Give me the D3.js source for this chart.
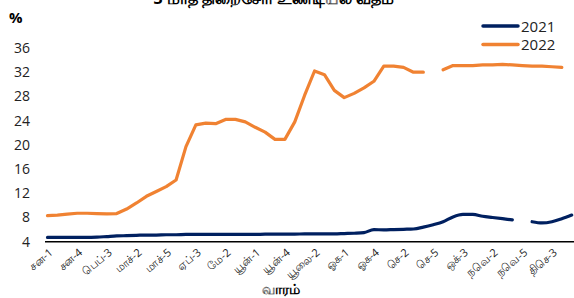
<!DOCTYPE html>
<html>
<head>
  <meta charset="utf-8" />
  <script src="https://cdn.jsdelivr.net/npm/d3@7"></script>
  <style>
    body { margin: 0; background: #fff; }
    text { font-family: "Open Sans", "Noto Sans", sans-serif; }
  </style>
</head>
<body>
<div id="chart"></div>
<script type="text/javascript">
// weekly rate, 54 weeks; null = no auction that week
var weeks = d3.range(54);

var rate2021 = [4.7, 4.7, 4.7, 4.7, 4.7, 4.75, 4.85, 4.95, 5.0, 5.05,
  5.1, 5.1, 5.15, 5.15, 5.2, 5.2, 5.2, 5.2, 5.2, 5.2,
  5.2, 5.2, 5.25, 5.25, 5.25, 5.25, 5.3, 5.3, 5.3, 5.3,
  5.35, 5.4, 5.5, 6.0, 5.95, 6.0, 6.05, 6.1, 6.4, 6.8,
  7.3, 8.1, 8.5, 8.5, 8.2, 8.0, 7.8, 7.6, null, 7.3,
  7.1, 7.3, 7.8, 8.4];

var rate2022 = [8.3, 8.4, 8.55, 8.7, 8.7, 8.65, 8.6, 8.65, 9.4, 10.4,
  11.5, 12.3, 13.1, 14.2, 19.7, 23.3, 23.6, 23.5, 24.2, 24.2,
  23.8, 22.9, 22.1, 20.9, 20.9, 23.8, 28.2, 32.2, 31.6, 29.0,
  27.8, 28.5, 29.4, 30.5, 33.0, 33.0, 32.8, 32.0, 32.0, null,
  32.4, 33.1, 33.1, 33.1, 33.2, 33.2, 33.3, 33.2, 33.1, 33.0,
  33.0, 32.9, 32.8, null];

var tickLabels = ["சன-1", "சன-4", "பெப்-3", "மாச்-2", "மாச்-5", "ஏப்-3",
  "மே-2", "யூன்-1", "யூன்-4", "யூலை-2", "ஓக-1", "ஓக-4", "செ-2", "செ-5",
  "ஒக்-3", "நவெ-2", "நவெ-5", "திசெ-3"];

var yTicks = [4, 8, 12, 16, 20, 24, 28, 32, 36];

var width = 574, height = 298;

var svg = d3.select("#chart")
  .append("svg")
    .attr("width", width)
    .attr("height", height);

var x = d3.scaleLinear().domain([0, 53]).range([47.5, 571.7]);
var y = d3.scaleLinear().domain([4, 36]).range([241.7, 48]);

// title (cut off at top in the original)
svg.append("text")
  .attr("x", 274)
  .attr("y", 4)
  .attr("text-anchor", "middle")
  .attr("font-size", "16px")
  .attr("font-weight", "bold")
  .text("3 மாத திறைசேரி உண்டியல் வீதம்");

// % label
svg.append("text")
  .attr("x", 9)
  .attr("y", 22.5)
  .attr("font-size", "15px")
  .attr("font-weight", "bold")
  .text("%");

// Y axis (labels only)
var yAxis = svg.append("g")
  .attr("transform", "translate(30,0)")
  .call(d3.axisLeft(y).tickValues(yTicks).tickSize(0).tickPadding(0));
yAxis.select(".domain").remove();
yAxis.selectAll("text")
  .attr("font-size", "14px")
  .attr("fill", "#222")
  .style("font-family", "'Open Sans', sans-serif");

// X axis
var xAxis = svg.append("g")
  .attr("transform", "translate(0," + y(4) + ")")
  .call(d3.axisBottom(x)
    .tickValues(d3.range(0, 52, 3))
    .tickFormat(function(d, i) { return tickLabels[i]; })
    .tickSize(0));
xAxis.select(".domain")
  .attr("d", "M45,0H574")
  .attr("stroke", "#000")
  .attr("stroke-width", 1.5);
xAxis.selectAll("text")
  .attr("font-size", "11px")
  .attr("fill", "#222")
  .attr("text-anchor", "end")
  .attr("y", 0)
  .attr("dy", "0.35em")
  .attr("transform", "translate(3,9) rotate(-40)");

// X axis title
svg.append("text")
  .attr("x", 281)
  .attr("y", 294)
  .attr("text-anchor", "middle")
  .attr("font-size", "14px")
  .attr("font-weight", "bold")
  .text("வாரம்");

var line = d3.line()
  .defined(function(d) { return d != null; })
  .x(function(d, i) { return x(weeks[i]); })
  .y(function(d) { return y(d); });

svg.append("path")
  .datum(rate2021)
  .attr("fill", "none")
  .attr("stroke", "#002060")
  .attr("stroke-width", 3.2)
  .attr("stroke-linejoin", "round")
  .attr("stroke-linecap", "round")
  .attr("d", line.curve(d3.curveMonotoneX));

svg.append("path")
  .datum(rate2022)
  .attr("fill", "none")
  .attr("stroke", "#F08232")
  .attr("stroke-width", 3.2)
  .attr("stroke-linejoin", "round")
  .attr("stroke-linecap", "round")
  .attr("d", line.curve(d3.curveLinear));

// legend
var legend = [{name: "2021", color: "#002060"}, {name: "2022", color: "#F08232"}];
var lg = svg.selectAll(".leg")
  .data(legend)
  .enter()
  .append("g")
  .attr("transform", function(d, i) { return "translate(483," + (26 + i * 18.5) + ")"; });
lg.append("line")
  .attr("x1", 0).attr("x2", 35)
  .attr("stroke", function(d) { return d.color; })
  .attr("stroke-width", 3.5)
  .attr("stroke-linecap", "round");
lg.append("text")
  .attr("x", 38)
  .attr("y", 5.5)
  .attr("font-size", "15px")
  .attr("fill", "#222")
  .text(function(d) { return d.name; });
</script>
</body>
</html>
